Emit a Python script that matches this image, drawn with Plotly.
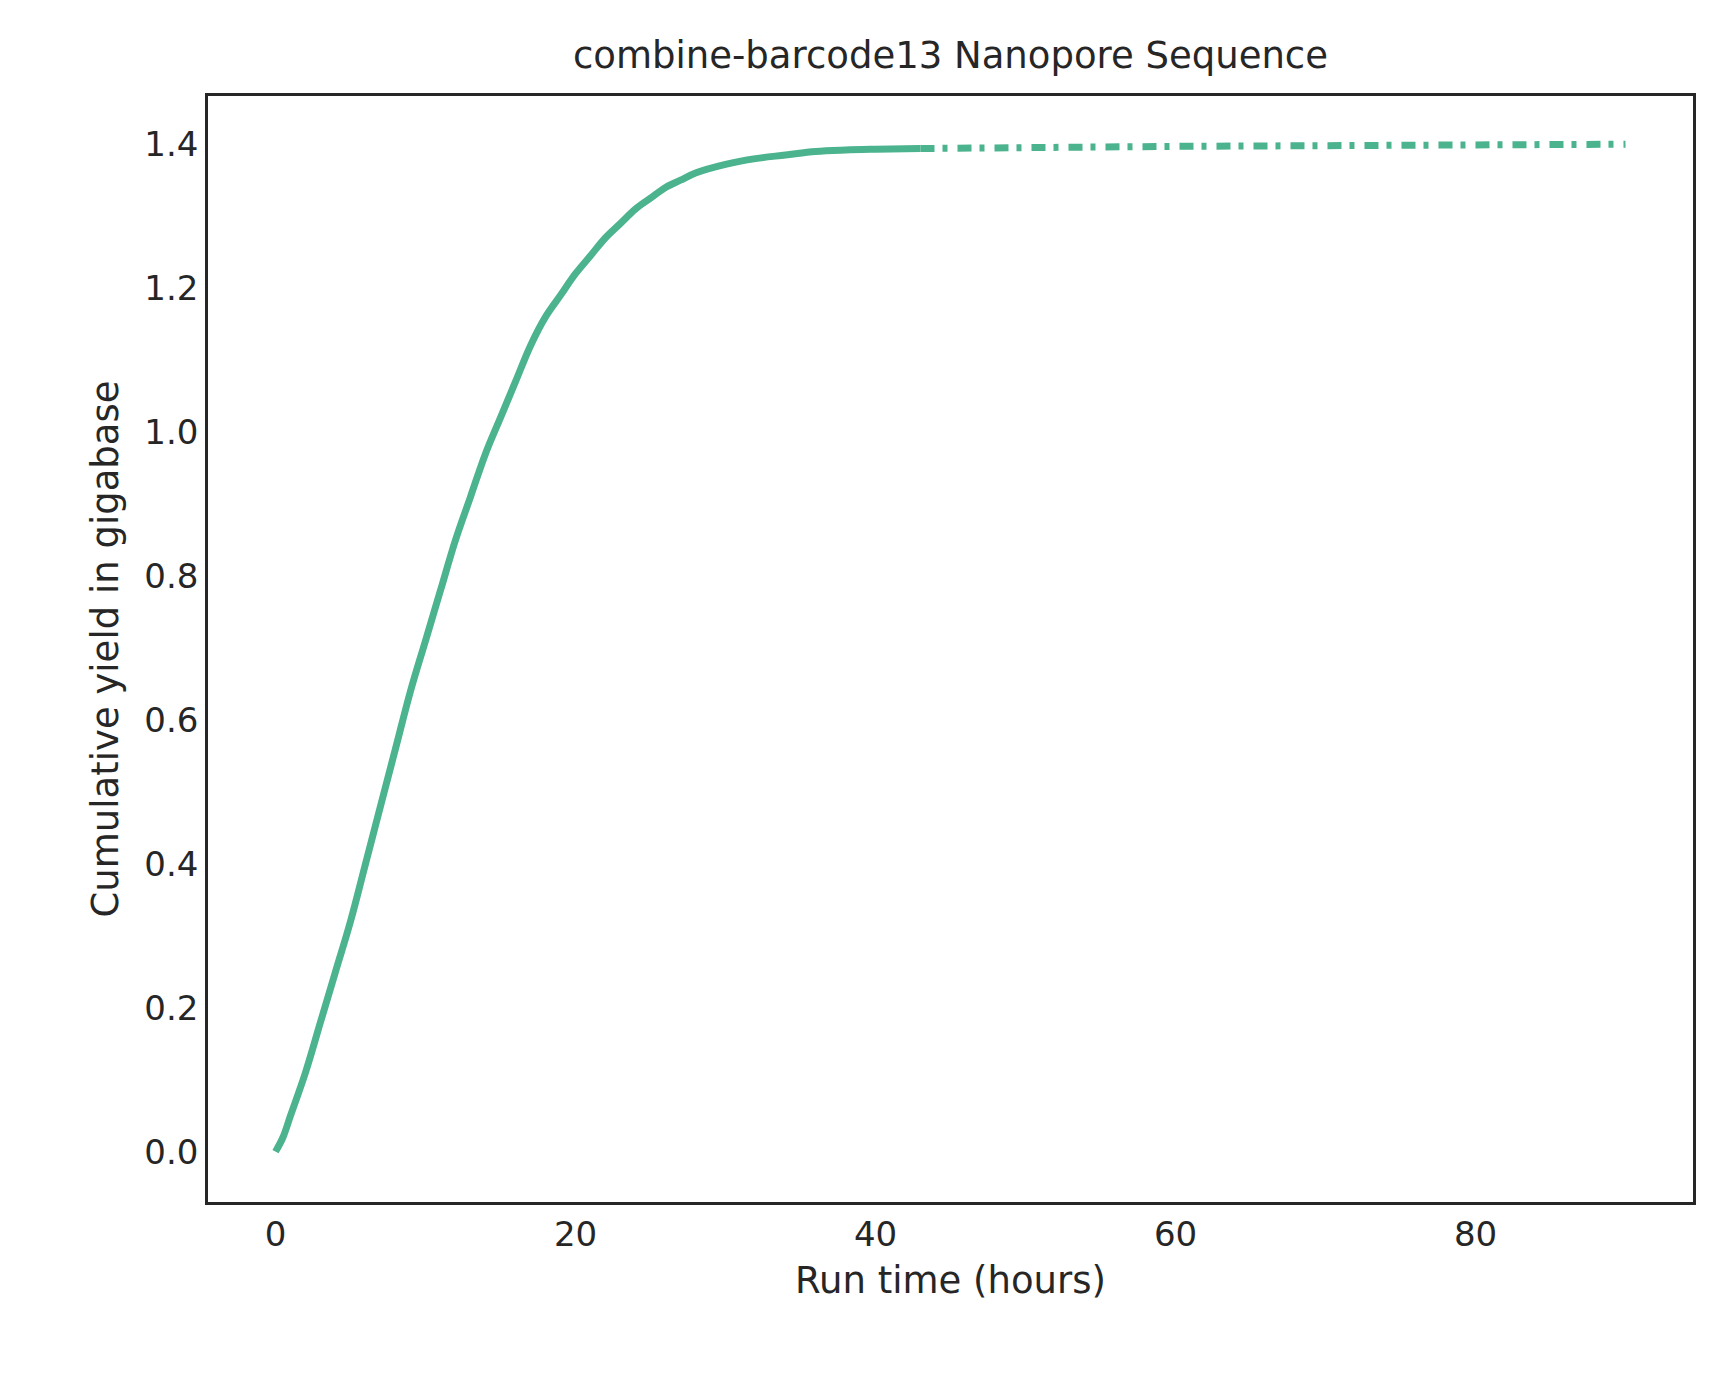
import plotly.graph_objects as go

# cumulative yield
hours = [0, 0.5, 1, 2, 3, 4, 5, 6, 7, 8, 9, 10, 11, 12, 13, 14, 15, 16, 17, 18, 19, 20,
         21, 22, 23, 24, 25, 26, 27, 28, 30, 32, 34, 36, 38, 40, 43]
yield_gb = [0, 0.02, 0.05, 0.11, 0.18, 0.25, 0.32, 0.40, 0.48, 0.56, 0.64, 0.71, 0.78, 0.85,
            0.91, 0.97, 1.02, 1.07, 1.12, 1.16, 1.19, 1.22, 1.245, 1.27, 1.29, 1.31, 1.325,
            1.34, 1.35, 1.36, 1.372, 1.38, 1.385, 1.39, 1.392, 1.393, 1.394]
tail_hours = [43, 50, 60, 70, 80, 90]
tail_yield = [1.394, 1.396, 1.397, 1.398, 1.399, 1.40]

green = "#4bb38d"
fig = go.Figure()
fig.add_trace(go.Scatter(x=hours, y=yield_gb, mode="lines",
                         line=dict(color=green, width=7, shape="spline")))
fig.add_trace(go.Scatter(x=tail_hours, y=tail_yield, mode="lines",
                         line=dict(color=green, width=7, dash="14px,8px,5px,10px")))

axis = dict(showline=True, linewidth=2.5, linecolor="#262626", mirror=True,
            showgrid=False, zeroline=False, ticks="", tickfont=dict(size=34, color="#262626"))
fig.update_xaxes(axis, range=[-4.5, 94.5], tickvals=[0, 20, 40, 60, 80],
                 title=dict(text="Run time (hours)", font=dict(size=37, color="#262626")))
fig.update_yaxes(axis, range=[-0.07, 1.467], tickvals=[0, 0.2, 0.4, 0.6, 0.8, 1.0, 1.2, 1.4],
                 tickformat=".1f",
                 title=dict(text="Cumulative yield in gigabase", font=dict(size=37, color="#262626")))
fig.update_layout(width=1725, height=1381, showlegend=False,
                  paper_bgcolor="white", plot_bgcolor="white",
                  font=dict(family="DejaVu Sans", color="#262626"),
                  margin=dict(l=200, r=40, t=88, b=187),
                  title=dict(text="combine-barcode13 Nanopore Sequence", x=0.5, xanchor="center",
                             xref="paper", y=0.975, font=dict(size=37, color="#262626")))
fig.write_html("out.html")
